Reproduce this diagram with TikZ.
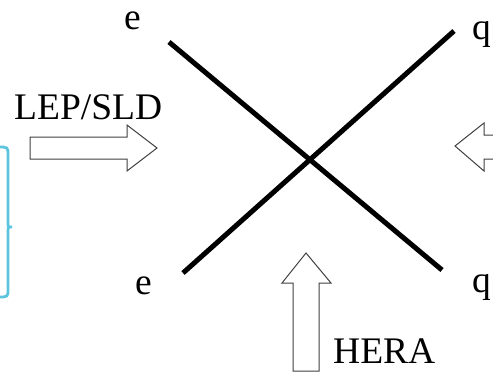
\documentclass[tikz,border=0pt]{standalone}
\usepackage{fontspec}
\setmainfont{Liberation Serif}
\definecolor{bracecyan}{RGB}{92,196,220}
\begin{document}
\begin{tikzpicture}[x=1pt,y=-1pt,
  lbl/.style={inner sep=0pt,anchor=base west,font=\fontsize{37.5}{40}\selectfont},
  fermion/.style={line width=5pt,black},
  beam/.style={draw=black!75,line width=1pt,fill=white,line join=miter},
  brace/.style={draw=bracecyan,line width=2.8pt}]
\useasboundingbox (0,0) rectangle (493,373);

% external legs of the scattering vertex
\coordinate (eIn)  at (169,42);
\coordinate (qOut) at (454,31);
\coordinate (eOut) at (183,273);
\coordinate (qIn)  at (442,270);
\draw[fermion] (eIn) -- (qIn);
\draw[fermion] (eOut) -- (qOut);

% particle labels
\node[lbl] (le1) at (124,29) {e};
\node[lbl] (le2) at (135,294) {e};
\node[lbl] (lq1) at (472,39) {q};
\node[lbl] (lq2) at (472,292) {q};

% experiments probing the vertex
\node[lbl] (lep) at (14,119) {LEP/SLD};
\node[lbl] (hera) at (333,363) {HERA};

% hollow block arrows
\draw[beam] (30,137) -- (127,137) -- (127,125) -- (157,148) -- (127,171)
  -- (127,159) -- (30,159) -- cycle;
\draw[beam] (500,135) -- (484,135) -- (484,123) -- (455,146) -- (484,171)
  -- (484,159) -- (500,159);
\draw[beam] (293,371) -- (293,283) -- (282,283) -- (306,253) -- (331,283)
  -- (319,283) -- (319,371) -- cycle;

% grouping brace at the left edge
\draw[brace] (-2,147) .. controls (8,147) .. (8,155) -- (8,222)
  .. controls (8,227) .. (12,227) .. controls (8,227) .. (8,232)
  -- (8,289) .. controls (8,297) .. (-2,297);
\end{tikzpicture}
\end{document}
